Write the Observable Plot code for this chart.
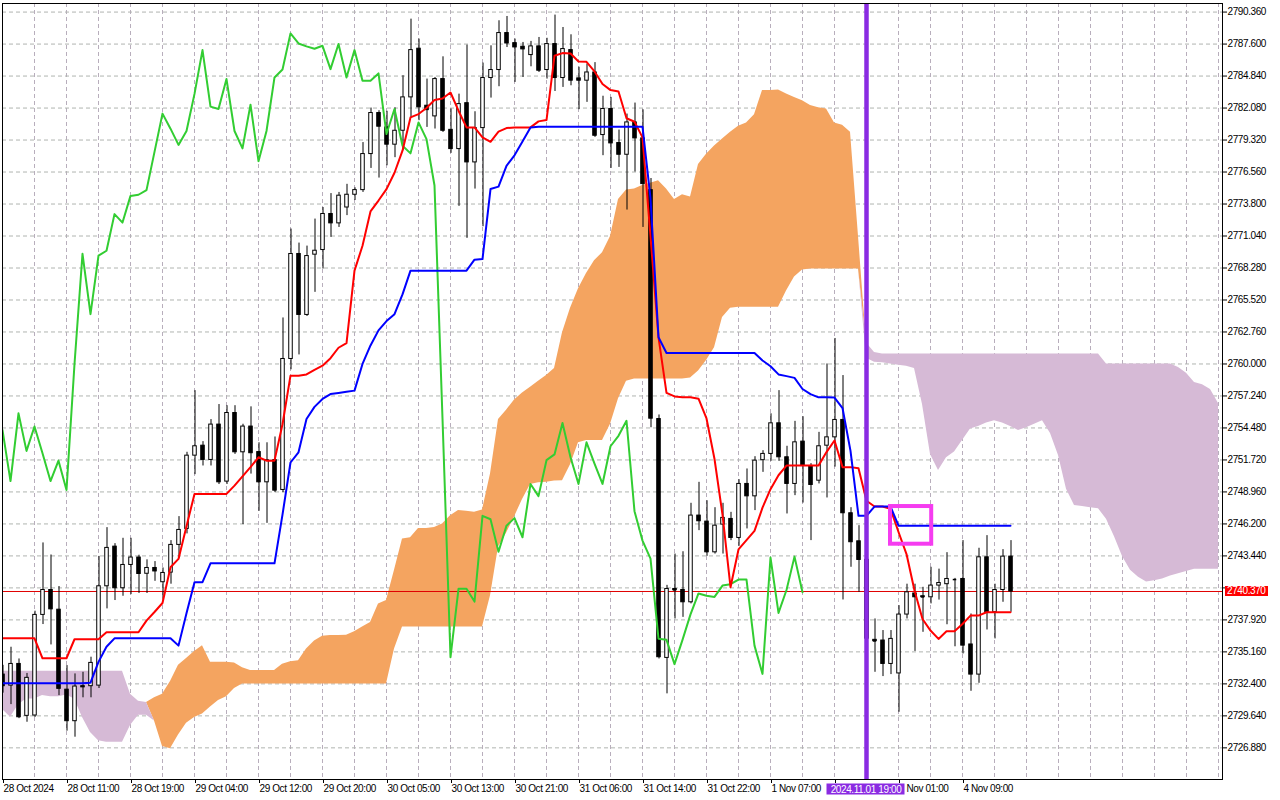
<!DOCTYPE html>
<html><head><meta charset="utf-8">
<script src="https://cdn.jsdelivr.net/npm/d3@7"></script>
<script src="https://cdn.jsdelivr.net/npm/@observablehq/plot@0.6"></script>
<style>
html,body{margin:0;padding:0;background:#fff;}
#chart{width:1280px;height:800px;}
svg text{letter-spacing:-0.4px;}
</style></head><body><div id="chart"></div>
<script>
// XAUUSD H1 candles, bar index 0 = 28 Oct 2024 03:00
const opens=[2733.2,2732.25,2734.12,2729.64,2729.67,2738.35,2740.5,2738.8,2731.9,2729.18,2732.1,2732.2,2732.25,2740.82,2744.24,2740.65,2742.66,2743.3,2741.9,2742.4,2741.17,2742.0,2744.39,2745.77,2752.09,2752.95,2751.72,2754.77,2749.85,2755.77,2752.38,2754.6,2752.4,2749.79,2751.7,2749.13,2760.43,2769.49,2764.23,2769.43,2769.83,2772.94,2772.13,2773.5,2774.6,2775.0,2778.11,2781.65,2780.41,2778.92,2780.12,2783.0,2787.2,2782.28,2781.36,2784.58,2780.2,2778.54,2782.5,2777.39,2780.35,2784.67,2785.36,2788.55,2787.68,2787.37,2786.65,2787.4,2785.36,2787.6,2784.67,2787.08,2784.64,2784.44,2785.15,2779.75,2782.0,2779.06,2778.05,2780.84,2779.46,2775.0,2755.25,2734.64,2740.59,2740.5,2739.44,2746.92,2746.4,2743.75,2746.14,2746.63,2744.99,2749.65,2748.58,2751.7,2752.24,2754.88,2751.95,2749.65,2753.3,2751.2,2749.93,2752.95,2753.67,2755.17,2747.12,2744.7,2743.1,2736.2,2736.14,2734.12,2733.3,2738.38,2740.2,2739.96,2739.87,2740.88,2741.0,2741.4,2741.45,2735.8,2733.2,2743.32,2738.58,2740.5,2743.38];
const highs=[2734.0,2735.56,2734.55,2733.3,2738.67,2744.56,2743.52,2740.8,2733.98,2733.26,2733.4,2734.7,2743.4,2745.88,2744.5,2744.96,2744.96,2743.5,2743.1,2742.95,2742.4,2744.76,2746.83,2752.38,2757.7,2753.3,2755.2,2756.5,2756.4,2756.4,2754.8,2756.3,2753.2,2753.2,2753.7,2763.97,2771.64,2770.43,2770.17,2772.5,2773.5,2774.7,2774.8,2775.5,2775.2,2779.1,2782.08,2781.85,2781.8,2782.1,2784.87,2789.75,2788.03,2784.58,2784.72,2786.5,2782.0,2783.28,2787.51,2781.76,2785.96,2787.45,2789.61,2789.98,2788.03,2787.74,2787.83,2788.17,2788.1,2790.1,2789.03,2788.4,2785.6,2785.87,2786.0,2783.1,2783.0,2780.18,2781.56,2782.51,2781.93,2776.0,2755.6,2740.9,2743.6,2743.8,2747.98,2749.79,2748.2,2747.6,2747.98,2747.2,2750.02,2750.94,2752.0,2752.52,2755.7,2757.7,2752.9,2755.05,2755.45,2751.4,2754.1,2760.0,2762.2,2759.0,2747.6,2746.05,2743.5,2738.0,2737.0,2737.0,2739.15,2741.0,2741.0,2740.73,2742.46,2742.3,2743.72,2741.5,2744.76,2738.43,2744.1,2745.19,2741.0,2743.98,2744.76];
const lows=[2731.6,2730.61,2729.4,2729.09,2729.5,2737.52,2735.76,2731.39,2728.32,2727.8,2731.2,2731.2,2732.0,2738.87,2739.59,2739.96,2740.1,2740.2,2740.2,2741.25,2739.73,2741.0,2743.2,2745.34,2750.45,2751.2,2751.2,2749.6,2749.6,2752.2,2746.14,2750.5,2747.29,2746.25,2748.9,2748.9,2759.5,2760.78,2764.1,2766.18,2768.19,2770.92,2771.78,2772.8,2774.1,2774.8,2776.87,2776.04,2777.1,2777.8,2778.4,2781.27,2780.99,2780.41,2780.27,2779.98,2778.17,2773.6,2770.84,2775.09,2771.84,2782.94,2783.92,2787.3,2784.29,2784.72,2785.64,2785.15,2784.58,2783.51,2783.86,2784.0,2781.94,2782.57,2779.55,2777.97,2776.87,2776.96,2773.28,2776.56,2771.78,2754.5,2734.55,2731.54,2738.0,2738.14,2739.3,2745.62,2743.4,2743.6,2743.6,2744.76,2744.27,2745.77,2747.35,2750.65,2751.6,2751.6,2747.06,2748.64,2748.0,2744.76,2749.65,2748.44,2751.1,2739.64,2742.46,2740.3,2735.5,2733.4,2733.03,2733.2,2729.95,2738.0,2735.2,2736.85,2739.3,2739.63,2737.5,2735.6,2734.98,2731.76,2732.45,2737.05,2736.28,2739.44,2738.58];
const closes=[2732.2,2734.12,2729.52,2732.92,2738.35,2740.5,2738.83,2731.97,2729.18,2732.17,2732.2,2734.21,2740.82,2744.13,2740.65,2742.66,2743.3,2741.88,2742.4,2742.1,2741.97,2744.39,2745.68,2752.09,2752.9,2751.72,2754.77,2749.79,2755.77,2752.38,2754.6,2752.3,2749.79,2751.7,2749.07,2760.43,2769.49,2764.23,2769.31,2769.77,2772.94,2772.13,2774.52,2774.6,2775.0,2778.11,2781.65,2780.47,2778.92,2780.12,2783.0,2787.08,2782.14,2781.9,2784.58,2780.12,2778.54,2782.42,2777.39,2780.35,2784.67,2785.36,2788.55,2787.65,2787.31,2787.14,2787.4,2785.3,2787.6,2784.67,2787.17,2784.44,2784.44,2785.15,2779.69,2782.0,2779.03,2778.05,2780.84,2779.46,2775.52,2755.28,2734.7,2740.59,2740.5,2739.44,2746.92,2746.43,2743.75,2746.05,2746.72,2744.99,2749.65,2748.58,2751.66,2752.24,2754.88,2751.95,2749.65,2753.24,2751.2,2749.56,2752.9,2753.67,2755.17,2747.12,2744.62,2743.09,2736.3,2736.1,2734.12,2736.28,2738.38,2740.3,2739.87,2739.9,2740.88,2741.1,2741.45,2741.4,2735.7,2733.2,2743.32,2738.58,2740.5,2743.38,2740.37];
// Ichimoku lines
const tenkan=[2736.33,2736.33,2736.33,2736.33,2736.33,2734.61,2734.61,2734.61,2734.61,2736.25,2736.25,2736.25,2736.25,2736.85,2736.85,2736.85,2736.85,2736.85,2737.86,2738.6,2739.38,2742.46,2743.18,2746.0,2748.79,2748.79,2748.79,2748.79,2748.79,2749.5,2750.3,2751.1,2751.95,2751.66,2751.66,2754.8,2758.99,2758.99,2759.1,2759.5,2759.85,2760.5,2761.4,2761.8,2768.05,2770.2,2773.16,2774.1,2775.09,2776.5,2778.4,2781.27,2781.56,2782.08,2782.77,2782.9,2783.42,2781.85,2780.41,2780.41,2779.55,2779.17,2780.04,2780.35,2780.41,2780.41,2780.41,2780.93,2781.04,2786.59,2786.82,2786.79,2786.1,2786.07,2785.24,2784.15,2783.63,2783.51,2781.2,2780.9,2779.55,2771.0,2762.3,2757.5,2757.2,2757.12,2757.12,2757.0,2755.3,2751.8,2747.0,2740.74,2744.0,2744.8,2745.6,2747.6,2749.2,2750.4,2751.23,2751.23,2751.23,2751.23,2751.23,2752.4,2753.4,2751.1,2751.1,2751.0,2748.2,2747.7,2747.7,2747.5,2745.5,2743.6,2740.45,2738.0,2737.0,2736.28,2736.94,2736.94,2737.57,2738.29,2738.29,2738.58,2738.58,2738.58,2738.58];
const kijun=[2732.45,2732.45,2732.45,2732.45,2732.45,2732.45,2732.45,2732.45,2732.45,2732.45,2732.45,2732.5,2734.3,2735.6,2736.33,2736.33,2736.33,2736.33,2736.33,2736.33,2736.33,2736.33,2735.7,2738.5,2741.17,2741.17,2742.8,2742.8,2742.8,2742.8,2742.8,2742.8,2742.8,2742.8,2742.8,2747.0,2751.5,2752.38,2755.25,2756.3,2756.98,2757.4,2757.5,2757.6,2757.7,2760.0,2761.6,2762.9,2763.7,2764.3,2766.0,2768.05,2768.05,2768.05,2768.05,2768.05,2768.05,2768.05,2768.05,2769.0,2769.05,2775.09,2775.3,2777.1,2778.0,2779.2,2780.41,2780.47,2780.47,2780.47,2780.47,2780.47,2780.47,2780.47,2780.47,2780.47,2780.47,2780.47,2780.47,2780.47,2780.47,2774.3,2762.3,2760.95,2760.95,2760.95,2760.95,2760.95,2760.95,2760.95,2760.95,2760.95,2760.95,2760.95,2760.95,2760.3,2759.8,2759.1,2758.95,2758.8,2757.84,2757.4,2757.12,2757.12,2757.1,2756.2,2752.5,2746.9,2746.9,2747.7,2747.7,2747.7,2746.05,2746.05,2746.05,2746.05,2746.05,2746.05,2746.05,2746.05,2746.05,2746.05,2746.05,2746.05,2746.05,2746.05,2746.05];
const chikou=[2754.3,2749.9,2755.74,2752.5,2754.6,2752.3,2749.9,2751.66,2749.13,2760.0,2769.5,2764.3,2769.34,2769.77,2772.93,2772.2,2774.5,2774.6,2775.0,2778.3,2781.6,2780.3,2778.9,2780.1,2783.3,2787.08,2782.2,2782.0,2784.58,2780.1,2778.6,2782.37,2777.5,2780.1,2784.72,2785.4,2788.52,2787.65,2787.4,2787.2,2787.45,2785.44,2787.6,2784.72,2787.08,2784.44,2784.44,2785.07,2779.84,2782.0,2778.83,2778.17,2780.84,2779.4,2775.4,2755.3,2734.7,2740.6,2740.6,2739.5,2746.9,2746.6,2743.8,2746.05,2746.7,2745.05,2749.65,2748.6,2751.7,2752.2,2754.9,2751.95,2749.65,2753.24,2751.4,2749.65,2752.9,2753.8,2755.1,2747.3,2744.76,2743.2,2736.3,2736.2,2734.1,2736.2,2738.4,2740.2,2740.0,2739.9,2740.88,2741.0,2741.4,2741.4,2735.7,2733.26,2743.3,2738.52,2740.5,2743.38,2740.3];
const spanA=[2730.2,2729.52,2730.6,2731.1,2731.1,2731.4,2731.3,2731.3,2731.45,2731.1,2729.5,2728.2,2727.5,2727.37,2727.37,2727.37,2728.8,2729.7,2729.7,2731.2,2731.5,2732.6,2734.0,2734.6,2735.2,2735.7,2734.27,2734.27,2734.27,2734.2,2733.8,2733.55,2733.55,2733.55,2733.55,2734.1,2734.3,2734.4,2735.4,2736.1,2736.5,2736.57,2736.57,2736.6,2736.9,2737.3,2737.7,2739.3,2739.6,2742.2,2744.9,2745.0,2745.8,2745.8,2745.9,2746.2,2746.9,2747.35,2747.3,2747.2,2747.4,2750.5,2755.2,2756.0,2756.9,2757.5,2758.0,2758.5,2759.0,2759.6,2762.7,2764.8,2766.5,2767.8,2768.9,2769.6,2771.0,2774.2,2775.0,2775.1,2775.4,2775.6,2775.8,2775.1,2774.2,2774.6,2774.4,2777.2,2778.1,2778.8,2779.4,2780.0,2780.5,2780.8,2781.5,2783.6,2783.6,2783.63,2783.3,2783.0,2782.7,2782.3,2782.1,2782.0,2780.8,2780.6,2780.0,2771.0,2760.5,2760.15,2760.1,2760.0,2759.9,2759.8,2759.6,2756.5,2752.2,2750.8,2751.9,2752.4,2753.4,2754.4,2754.6,2754.9,2755.1,2754.9,2754.6,2754.25,2754.5,2754.8,2755.1,2754.0,2752.1,2749.2,2747.8,2747.7,2747.6,2747.5,2746.6,2745.1,2743.4,2742.2,2741.6,2741.2,2741.3,2741.45,2741.7,2741.9,2742.1,2742.3,2742.3,2742.3,2742.3];
const spanB=[2733.5,2733.5,2733.5,2733.5,2733.5,2733.5,2733.5,2733.5,2733.5,2733.5,2733.5,2733.5,2733.5,2733.5,2733.5,2733.5,2731.5,2730.9,2730.8,2729.2,2727.0,2726.8,2728.0,2729.0,2729.5,2729.8,2730.4,2730.96,2731.3,2732.0,2732.4,2732.4,2732.4,2732.4,2732.4,2732.4,2732.4,2732.4,2732.4,2732.4,2732.4,2732.4,2732.4,2732.4,2732.4,2732.4,2732.4,2732.4,2732.4,2735.4,2737.3,2737.3,2737.3,2737.3,2737.3,2737.3,2737.3,2737.3,2737.3,2737.3,2737.3,2740.0,2744.2,2745.4,2746.8,2748.3,2749.6,2749.75,2749.8,2749.9,2749.93,2751.3,2753.2,2753.4,2753.4,2753.4,2754.8,2757.0,2758.5,2758.7,2758.7,2758.7,2758.7,2758.7,2758.7,2758.7,2758.8,2759.4,2760.3,2761.4,2764.0,2764.8,2764.9,2764.9,2764.9,2764.9,2764.9,2764.9,2766.3,2767.5,2768.1,2768.2,2768.2,2768.2,2768.2,2768.2,2768.2,2768.2,2761.8,2761.0,2760.86,2760.86,2760.86,2760.86,2760.86,2760.86,2760.86,2760.86,2760.86,2760.86,2760.86,2760.86,2760.86,2760.86,2760.86,2760.86,2760.86,2760.86,2760.86,2760.86,2760.86,2760.86,2760.86,2760.86,2760.86,2760.86,2760.86,2760.86,2760.0,2760.0,2760.0,2760.0,2760.0,2760.0,2760.0,2760.0,2760.0,2759.7,2759.2,2758.4,2758.2,2757.8,2756.6];
// axes (labels hidden in the reference by overlays are left blank)
const priceTicks=[2726.88,2729.64,2732.40,2735.16,2737.92,2740.68,2743.44,2746.20,2748.96,2751.72,2754.48,2757.24,2760.00,2762.76,2765.52,2768.28,2771.04,2773.80,2776.56,2779.32,2782.08,2784.84,2787.60,2790.36];
const hiddenPriceLabel=2740.68;
const labelBars=[0,8,16,24,32,40,48,56,64,72,80,88,96,104,112,120];
const timeLabels=["28 Oct 2024","28 Oct 11:00","28 Oct 19:00","29 Oct 04:00","29 Oct 12:00","29 Oct 20:00","30 Oct 05:00","30 Oct 13:00","30 Oct 21:00","31 Oct 06:00","31 Oct 14:00","31 Oct 22:00","1 Nov 07:00","","","4 Nov 09:00"];
const partialLabelBar=112;
const partialLabel="Nov 01:00";
const gridBars=[0,4,8,12,16,20,24,28,32,36,40,44,48,52,56,60,64,68,72,76,80,84,88,92,96,100,104,108,112,116,120,124,128,132,136,140,144,148,152];
const bidPrice=2740.37;
const markerBar=108;
const markerLabel="2024.11.01 19:00";
const boxBars=[111,116.15];
const boxPrices=[2744.45,2747.7];

const bars=opens.map((o,i)=>({i,open:o,high:highs[i],low:lows[i],close:closes[i]}));
const up=bars.filter(d=>d.close>=d.open), down=bars.filter(d=>d.close<d.open);
const dojis=bars.filter(d=>Math.abs(d.close-d.open)<0.15);
const tk=tenkan.map((v,i)=>({i,v})), kj=kijun.map((v,i)=>({i,v})), ch=chikou.map((v,i)=>({i,v}));
const cloud=spanA.map((a,i)=>({i,a,b:spanB[i]}));
const hw=0.22;

const plot=Plot.plot({
  width:1280,height:800,
  marginLeft:2,marginRight:58,marginTop:3,marginBottom:21,
  style:{background:"#fff",fontFamily:"'Liberation Sans',Arial,sans-serif",fontSize:"10px",color:"#000",overflow:"visible"},
  x:{domain:[0,152.5]},
  y:{domain:[2724.15,2791.10]},
  marks:[
    Plot.gridX(gridBars,{stroke:"#b8aebc",strokeOpacity:1,strokeDasharray:"4,3"}),
    Plot.gridY(priceTicks,{stroke:"#b0b4b0",strokeOpacity:1,strokeDasharray:"4,3"}),
    Plot.areaY(cloud,{x:"i",y1:"b",y2:d=>Math.max(d.a,d.b),fill:"#F4A460",clip:true}),
    Plot.areaY(cloud,{x:"i",y1:d=>Math.min(d.a,d.b),y2:"b",fill:"#D6BAD6",clip:true}),
    Plot.ruleY([bidPrice],{stroke:"#e00000",strokeWidth:1}),
    Plot.ruleX(bars,{x:"i",y1:"low",y2:"high",stroke:"#000",strokeWidth:1,dx:0.5,clip:true}),
    Plot.rect(up,{x1:d=>d.i-hw,x2:d=>d.i+hw,y1:"open",y2:"close",fill:"#fff",stroke:"#000",strokeWidth:1,dx:0.5,clip:true}),
    Plot.rect(down,{x1:d=>d.i-hw,x2:d=>d.i+hw,y1:"open",y2:"close",fill:"#000",stroke:"#000",strokeWidth:1,dx:0.5,clip:true}),
    Plot.ruleY(dojis,{y:"close",x1:d=>d.i-hw,x2:d=>d.i+hw,stroke:"#000",strokeWidth:1.5,dx:0.5,clip:true}),
    Plot.line(ch,{x:"i",y:"v",stroke:"#32CD32",strokeWidth:2,clip:true}),
    Plot.line(tk,{x:"i",y:"v",stroke:"#FF0000",strokeWidth:2,clip:true}),
    Plot.line(kj,{x:"i",y:"v",stroke:"#0000FF",strokeWidth:2,clip:true}),
    Plot.ruleX([markerBar],{stroke:"#8A2BE2",strokeWidth:4.5}),
    Plot.rect([0],{x1:()=>boxBars[0],x2:()=>boxBars[1],y1:()=>boxPrices[0],y2:()=>boxPrices[1],fill:"none",stroke:"#F53CF0",strokeWidth:4}),
    Plot.frame({stroke:"#000"}),
    Plot.axisY({ticks:priceTicks,anchor:"right",tickSize:4,tickPadding:1,tickFormat:d=>Math.abs(d-hiddenPriceLabel)<1e-6?"":d.toFixed(3),label:null}),
    Plot.axisX({ticks:labelBars,anchor:"bottom",tickSize:4,tickPadding:1,tickFormat:d=>timeLabels[labelBars.indexOf(d)],textAnchor:"start",dx:1,label:null}),
    Plot.text([partialLabel],{x:()=>partialLabelBar,text:d=>d,frameAnchor:"bottom",textAnchor:"start",lineAnchor:"top",dy:5,dx:8})
  ]
});
document.getElementById("chart").appendChild(plot);

// overlays positioned via the plot's own scales
const sx=plot.scale("x"), sy=plot.scale("y");
const svg=d3.select(plot);
const mx=sx.apply(markerBar);
const g1=svg.append("g");
g1.append("rect").attr("x",mx-39.5).attr("y",783.5).attr("width",78).attr("height",11).attr("fill","#8A2BE2");
g1.append("text").attr("x",mx).attr("y",789.2).attr("text-anchor","middle").attr("dominant-baseline","central").attr("fill","#fff").attr("font-size",10).text(markerLabel);
const by=sy.apply(bidPrice);
const g2=svg.append("g");
g2.append("rect").attr("x",1225).attr("y",by-5).attr("width",43).attr("height",10).attr("fill","#FF0000");
g2.append("text").attr("x",1227).attr("y",by).attr("text-anchor","start").attr("dominant-baseline","central").attr("fill","#fff").attr("font-size",10).text(bidPrice.toFixed(3));
</script></body></html>
